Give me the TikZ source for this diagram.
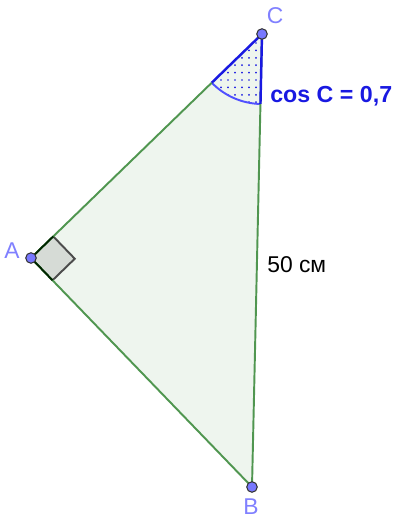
\documentclass[tikz,border=0pt]{standalone}
\usepackage{fontspec}
\setmainfont{Liberation Sans}
\usetikzlibrary{calc}
\definecolor{tri}{RGB}{80,150,80}
\definecolor{trifill}{RGB}{238,245,238}
\definecolor{sect}{RGB}{25,25,225}
\definecolor{arcc}{RGB}{80,80,255}
\definecolor{ptc}{RGB}{120,120,255}
\definecolor{lbl}{RGB}{128,128,255}
\definecolor{sqfill}{RGB}{214,219,214}
\begin{document}
\begin{tikzpicture}[x=0.02cm,y=0.02cm,
  pt/.style={circle,fill=ptc,draw=black!80,line width=0.6pt,inner sep=0pt,minimum size=6pt},
  lab/.style={text=lbl,font=\fontsize{13}{15}\selectfont,inner sep=0pt},
  side/.style={draw=tri,line width=1.1pt}]
\useasboundingbox (0,0) rectangle (405,524);
\coordinate (C) at (262,490);
\coordinate (A) at (31,266);
\coordinate (B) at (252,37);
% triangle fill
\fill[trifill] (A) -- (B) -- (C) -- cycle;
% right angle square
\coordinate (P1) at ($(A)!0.62cm!(C)$);
\coordinate (P2) at ($(A)!0.62cm!(B)$);
\coordinate (P3) at ($(P1)+(P2)-(A)$);
\fill[sqfill] (A) -- (P1) -- (P3) -- (P2) -- cycle;
\draw[black!70,line width=1.1pt] (P1) -- (P3) -- (P2);
% sector at C
\coordinate (S1) at ($(C)!1.4cm!(A)$);
\coordinate (S2) at ($(C)!1.4cm!(B)$);
\begin{scope}
\clip (C) -- (S1) arc[start angle=224.1,end angle=268.7,radius=1.4cm] -- cycle;
\foreach \i in {0,...,10}{
  \foreach \j in {0,...,10}{
    \fill[sect] ({256-7*\i},{481-7.4*\j}) circle[radius=0.55pt];
  }
}
\end{scope}
\draw[arcc,line width=1.1pt] (S1) arc[start angle=224.1,end angle=268.7,radius=1.4cm];
% sides
\draw[side] (A) -- (B) -- (C);
\draw[side] (A) -- (S1);
\draw[sect,line width=1.4pt] (S1) -- (C) -- (S2);
\draw[black!85!green,line width=1.1pt] (P1) -- (A) -- (P2);
% points
\node[pt] (a) at (A) {};
\node[pt] (b) at (B) {};
\node[pt] (c) at (C) {};
% labels
\node[lab] at (12,273) {A};
\node[lab] at (251,17) {B};
\node[lab] at (275,508) {C};
\node[inner sep=0pt,font=\fontsize{13}{15}\selectfont,anchor=base west] at (267,251) {50 см};
\node[inner sep=0pt,font=\fontsize{13.2}{15}\selectfont\bfseries,text=sect,anchor=base west] at (270,421) {cos C = 0,7};
\end{tikzpicture}
\end{document}
